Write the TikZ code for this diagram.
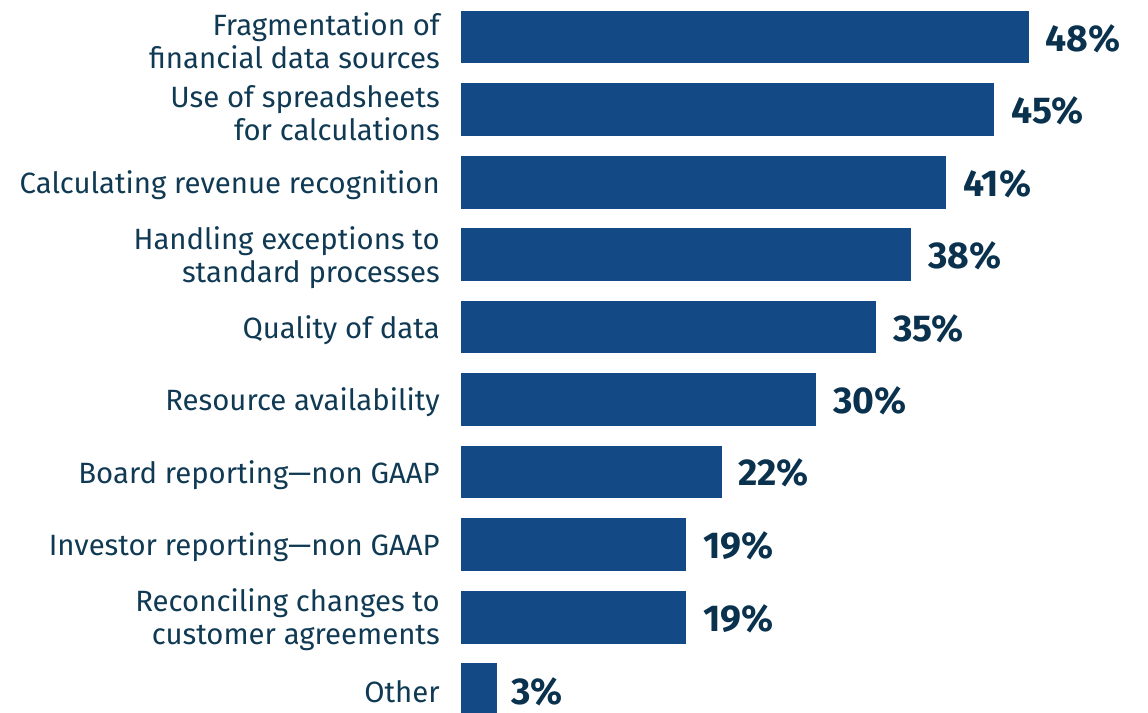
\documentclass[tikz,border=0pt]{standalone}
\usepackage{fontspec}
\setmainfont{Fira Sans}
\usepackage{tikz}

\definecolor{barblue}{RGB}{19,74,134}
\definecolor{labelnavy}{RGB}{16,58,84}
\definecolor{pctnavy}{RGB}{10,50,78}

\begin{document}
\begin{tikzpicture}[x=0.75pt,y=0.75pt,yscale=-1,xscale=1,
  bar/.style={fill=barblue, draw=none},
  lbl/.style={anchor=east, inner sep=0pt, align=right, text=labelnavy, font=\fontsize{22}{24.5}\selectfont},
  pct/.style={anchor=west, inner sep=0pt, text=pctnavy, font=\fontsize{28}{30}\selectfont\bfseries}]
%set diagram to the reference size
\useasboundingbox (0,0) rectangle (1148,713);

%Shape: Rectangle [id:bar48] 
\fill [bar] (461,11) rectangle (1029,63) ;
%Shape: Rectangle [id:bar45] 
\fill [bar] (461,83) rectangle (994,136) ;
%Shape: Rectangle [id:bar41] 
\fill [bar] (461,156) rectangle (946,209) ;
%Shape: Rectangle [id:bar38] 
\fill [bar] (461,228) rectangle (911,281) ;
%Shape: Rectangle [id:bar35] 
\fill [bar] (461,301) rectangle (876,353) ;
%Shape: Rectangle [id:bar30] 
\fill [bar] (461,373) rectangle (816,426) ;
%Shape: Rectangle [id:bar22] 
\fill [bar] (461,446) rectangle (722,498) ;
%Shape: Rectangle [id:bar19a] 
\fill [bar] (461,518) rectangle (686,571) ;
%Shape: Rectangle [id:bar19b] 
\fill [bar] (461,591) rectangle (686,644) ;
%Shape: Rectangle [id:bar3] 
\fill [bar] (461,663) rectangle (497,716) ;

% Text Node
\node [lbl] (fragm) at (440,41) {Fragmentation of\\financial data sources};
% Text Node
\node [lbl] (sheets) at (440,113) {Use of spreadsheets\\for calculations};
% Text Node
\node [lbl] (revrec) at (440,185) {Calculating revenue recognition};
% Text Node
\node [lbl] (exceps) at (440,258) {Handling exceptions to\\standard processes};
% Text Node
\node [lbl] (qual) at (440,330) {Quality of data};
% Text Node
\node [lbl] (resav) at (440,402) {Resource availability};
% Text Node
\node [lbl] (board) at (440,475) {Board reporting---non GAAP};
% Text Node
\node [lbl] (invest) at (440,547) {Investor reporting---non GAAP};
% Text Node
\node [lbl] (recon) at (440,620) {Reconciling changes to\\customer agreements};
% Text Node
\node [lbl] (other) at (440,692) {Other};

% Text Node
\node [pct] (p48) at (1045,39) {48\%};
% Text Node
\node [pct] (p45) at (1011,111) {45\%};
% Text Node
\node [pct] (p41) at (963,184) {41\%};
% Text Node
\node [pct] (p38) at (928,256) {38\%};
% Text Node
\node [pct] (p35) at (893,329) {35\%};
% Text Node
\node [pct] (p30) at (833,401) {30\%};
% Text Node
\node [pct] (p22) at (738,473) {22\%};
% Text Node
\node [pct] (p19a) at (703,546) {19\%};
% Text Node
\node [pct] (p19b) at (703,619) {19\%};
% Text Node
\node [pct] (p3) at (511,692) {3\%};

\end{tikzpicture}
\end{document}
